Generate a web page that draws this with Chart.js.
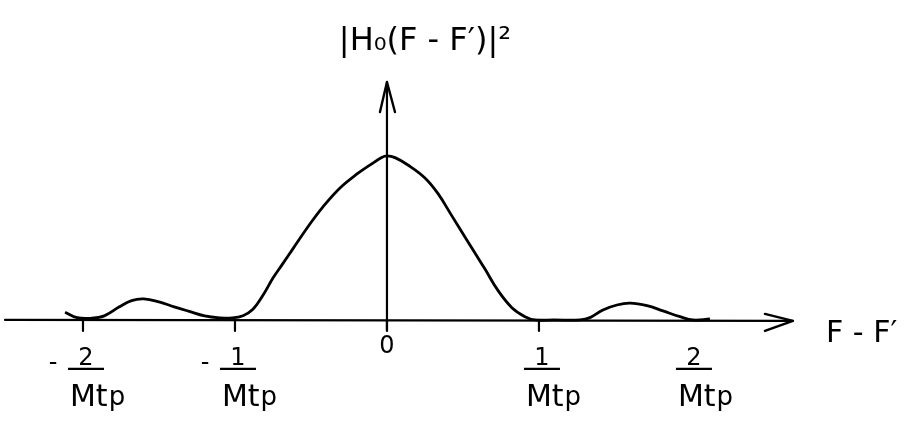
<!DOCTYPE html>
<html>
<head>
<meta charset="utf-8">
<script src="https://cdn.jsdelivr.net/npm/chart.js@4/dist/chart.umd.min.js"></script>
<style>
  html, body { margin: 0; padding: 0; background: #fff; }
  #wrap { width: 913px; height: 428px; }
</style>
</head>
<body>
<div id="wrap"><canvas id="c" width="913" height="428"></canvas></div>
<script>
// Frequency offset F - F' in units of 1/(M t_p)
const freq = [-2.118, -2.039, -1.95, -1.86, -1.76, -1.68, -1.6, -1.5, -1.4,
  -1.3, -1.2, -1.1, -1.02, -0.947, -0.882, -0.816, -0.75, -0.684, -0.618,
  -0.507, -0.421, -0.309, -0.197, -0.1, -0.035, 0,
  0.053, 0.138, 0.25, 0.336, 0.428, 0.513, 0.579, 0.645, 0.73, 0.822, 0.908, 0.974,
  1.1, 1.27, 1.336, 1.421, 1.513, 1.599, 1.711, 1.816, 1.928, 2.013, 2.125];
// |H0(F - F')|^2, normalised to the main-lobe peak
const power = [0.047, 0.014, 0.01, 0.025, 0.08, 0.118, 0.128, 0.11, 0.08,
  0.052, 0.025, 0.013, 0.012, 0.026, 0.065, 0.15, 0.255, 0.345, 0.435,
  0.585, 0.69, 0.805, 0.89, 0.952, 0.99, 1.0,
  0.99, 0.945, 0.866, 0.77, 0.633, 0.506, 0.408, 0.31, 0.18, 0.075, 0.02, 0,
  0, 0, 0.014, 0.061, 0.091, 0.102, 0.087, 0.055, 0.02, 0, 0.006];

// Axis labelling
const tickValues = [-2, -1, 1, 2];
const tickSigns = ['-', '-', '', ''];
const tickNumerators = ['2', '1', '1', '2'];
const tickDenominator = ['Mt', 'p'];
const tickMarks = [-2, -1, 0, 1];
const originLabel = '0';
const yTitle = '|H\u2080(F - F\u2032)|\u00B2';
const xTitle = 'F - F\u2032';
const xAxisExtent = [-2.513, 2.671];
const yAxisExtent = [-0.06, 1.451];

const INK = '#000';
const FONT = '"DejaVu Sans", sans-serif';

const sketchAxes = {
  id: 'sketchAxes',
  beforeDatasetsDraw(chart) {
    const { ctx, scales: { x, y } } = chart;
    const y0 = y.getPixelForValue(0);
    const x0 = x.getPixelForValue(0);
    ctx.save();
    ctx.strokeStyle = INK;
    ctx.lineCap = 'round';
    ctx.lineJoin = 'round';

    // horizontal axis with arrow
    const xa = x.getPixelForValue(xAxisExtent[0]);
    const xb = x.getPixelForValue(xAxisExtent[1]);
    ctx.lineWidth = 2.2;
    ctx.beginPath();
    ctx.moveTo(xa, y0);
    ctx.lineTo(xb, y0 + 1);
    ctx.stroke();
    ctx.lineWidth = 2.4;
    ctx.beginPath();
    ctx.moveTo(xb - 28, y0 - 6);
    ctx.lineTo(xb, y0 + 1);
    ctx.lineTo(xb - 28, y0 + 11);
    ctx.stroke();

    // vertical axis with arrow
    const ya = y.getPixelForValue(yAxisExtent[0]);
    const yb = y.getPixelForValue(yAxisExtent[1]);
    ctx.lineWidth = 2.2;
    ctx.beginPath();
    ctx.moveTo(x0, ya);
    ctx.lineTo(x0, yb);
    ctx.stroke();
    ctx.lineWidth = 2.4;
    ctx.beginPath();
    ctx.moveTo(x0 - 7, yb + 30);
    ctx.lineTo(x0, yb);
    ctx.lineTo(x0 + 8, yb + 30);
    ctx.stroke();

    // tick marks below the axis
    ctx.lineWidth = 2.2;
    tickMarks.forEach(v => {
      const px = x.getPixelForValue(v);
      ctx.beginPath();
      ctx.moveTo(px, y0);
      ctx.lineTo(px, y0 + 11);
      ctx.stroke();
    });
    ctx.restore();
  },
  afterDraw(chart) {
    const { ctx, scales: { x, y } } = chart;
    const y0 = y.getPixelForValue(0);
    const x0 = x.getPixelForValue(0);
    ctx.save();
    ctx.fillStyle = INK;
    ctx.strokeStyle = INK;
    ctx.textBaseline = 'alphabetic';

    // fractional tick labels  ±n / (M t_p)
    tickValues.forEach((v, i) => {
      const px = x.getPixelForValue(v);
      ctx.font = '24px ' + FONT;
      ctx.textAlign = 'center';
      if (tickSigns[i]) ctx.fillText(tickSigns[i], px - 30, y0 + 50);
      ctx.fillText(tickNumerators[i], px + 3, y0 + 45);
      ctx.lineWidth = 2.2;
      ctx.beginPath();
      ctx.moveTo(px - 15, y0 + 49);
      ctx.lineTo(px + 21, y0 + 49);
      ctx.stroke();
      ctx.textAlign = 'left';
      ctx.font = '30px ' + FONT;
      const left = px - 13;
      ctx.fillText(tickDenominator[0], left, y0 + 86);
      const w = ctx.measureText(tickDenominator[0]).width;
      ctx.font = '26px ' + FONT;
      ctx.fillText(tickDenominator[1], left + w + 1, y0 + 85);
    });

    // origin label
    ctx.font = '24px ' + FONT;
    ctx.textAlign = 'center';
    ctx.fillText(originLabel, x0, y0 + 33);

    // axis titles
    ctx.font = '32px ' + FONT;
    ctx.textAlign = 'center';
    ctx.fillText(yTitle, x0 + 38, 50);
    ctx.font = '30px ' + FONT;
    ctx.textAlign = 'left';
    ctx.fillText(xTitle, 826, y0 + 22);
    ctx.restore();
  }
};

new Chart(document.getElementById('c'), {
  type: 'line',
  data: {
    datasets: [{
      data: freq.map((f, i) => ({ x: f, y: power[i] })),
      borderColor: INK,
      borderWidth: 2.8,
      pointRadius: 0,
      fill: false,
      tension: 0.4
    }]
  },
  options: {
    responsive: false,
    animation: false,
    layout: { padding: 0 },
    plugins: { legend: { display: false }, tooltip: { enabled: false } },
    scales: {
      x: { type: 'linear', min: -2.546, max: 3.461, display: false },
      y: { type: 'linear', min: -0.659, max: 1.951, display: false }
    }
  },
  plugins: [sketchAxes]
});
</script>
</body>
</html>
